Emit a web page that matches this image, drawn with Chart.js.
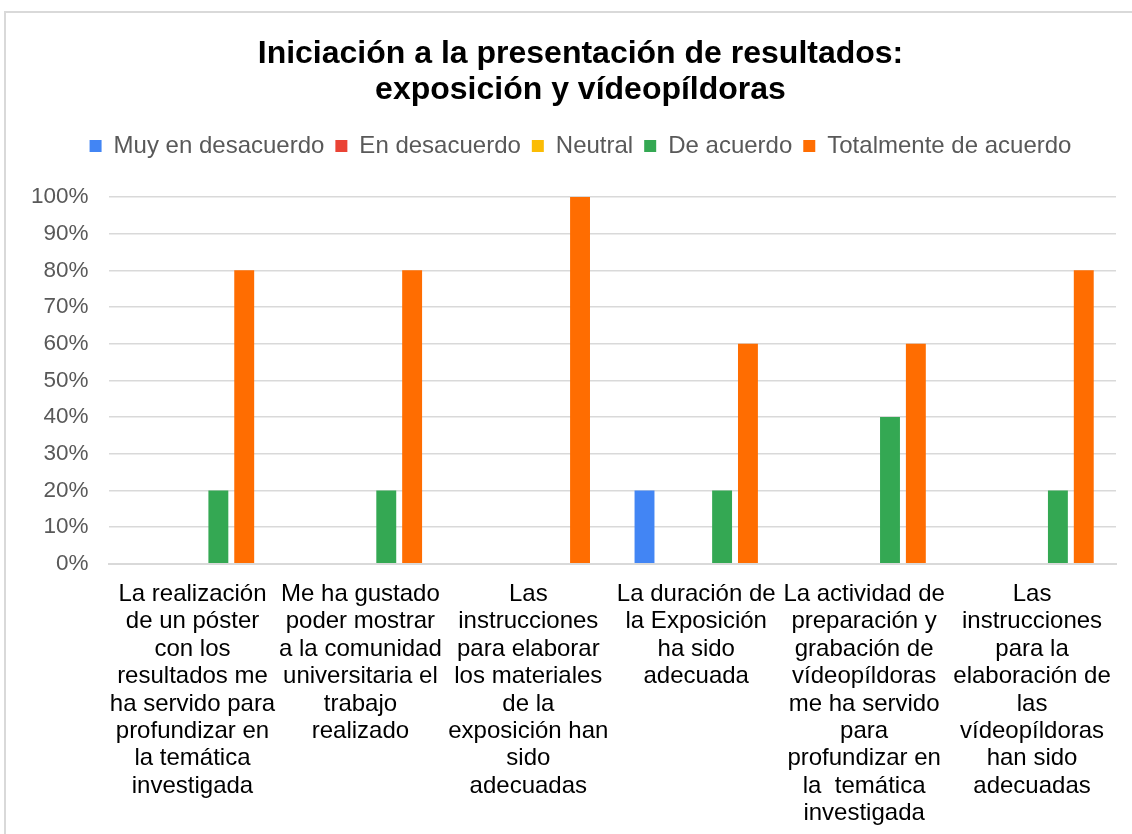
<!DOCTYPE html>
<html lang="es">
<head>
    <meta charset="UTF-8">
    <title>Iniciación a la presentación de resultados</title>
    <style>
        body {
            margin: 0;
            background: #fff;
            overflow: hidden;
        }
        .frame {
            position: absolute;
            left: 4px;
            top: 11px;
            width: 1160px;
            height: 840px;
            border: 2px solid #d9d9d9;
        }
        .wrap {
            position: absolute;
            left: 0;
            top: 0;
            width: 1150px;
            height: 834px;
        }
    </style>
</head>
<body>
    <div class="frame"></div>
    <div class="wrap">
        <canvas id="myChart" width="1150" height="834"></canvas>
    </div>
    <script src="https://cdn.jsdelivr.net/npm/chart.js@4.4.1/dist/chart.umd.min.js"></script>
    <script>
        const categories = [
            ['La realización', 'de un póster', 'con los', 'resultados me', 'ha servido para', 'profundizar en', 'la temática', 'investigada'],
            ['Me ha gustado', 'poder mostrar', 'a la comunidad', 'universitaria el', 'trabajo', 'realizado'],
            ['Las', 'instrucciones', 'para elaborar', 'los materiales', 'de la', 'exposición han', 'sido', 'adecuadas'],
            ['La duración de', 'la Exposición', 'ha sido', 'adecuada'],
            ['La actividad de', 'preparación y', 'grabación de', 'vídeopíldoras', 'me ha servido', 'para', 'profundizar en', 'la  temática', 'investigada'],
            ['Las', 'instrucciones', 'para la', 'elaboración de', 'las', 'vídeopíldoras', 'han sido', 'adecuadas']
        ];
        const seriesNames = ['Muy en desacuerdo', 'En desacuerdo', 'Neutral', 'De acuerdo', 'Totalmente de acuerdo'];
        const muyEnDesacuerdo = [0, 0, 0, 20, 0, 0];
        const enDesacuerdo = [0, 0, 0, 0, 0, 0];
        const neutral = [0, 0, 0, 0, 0, 0];
        const deAcuerdo = [20, 20, 0, 20, 40, 20];
        const totalmenteDeAcuerdo = [80, 80, 100, 60, 60, 80];
        const colors = ['#4285f4', '#ea4335', '#fbbc04', '#34a853', '#ff6d01'];

        const values = [muyEnDesacuerdo, enDesacuerdo, neutral, deAcuerdo, totalmenteDeAcuerdo];
        const data = {
            labels: categories,
            datasets: seriesNames.map((name, i) => ({
                label: name,
                data: values[i],
                backgroundColor: colors[i],
                borderWidth: 0,
                categoryPercentage: 0.77,
                barPercentage: 0.77
            }))
        };

        // extra space between the legend and the plot
        const legendMargin = {
            id: 'legendMargin',
            beforeInit(chart) {
                const fit = chart.legend.fit;
                chart.legend.fit = function () {
                    fit.bind(chart.legend)();
                    this.height += 29;
                };
            }
        };

        const font = 'Liberation Sans, Arial, sans-serif';
        const ctx = document.getElementById('myChart').getContext('2d');
        const myChart = new Chart(ctx, {
            type: 'bar',
            data: data,
            plugins: [legendMargin],
            options: {
                responsive: false,
                animation: false,
                layout: {
                    padding: { top: 28, left: 11, right: 0, bottom: -10 }
                },
                plugins: {
                    title: {
                        display: true,
                        text: ['Iniciación a la presentación de resultados:', 'exposición y vídeopíldoras'],
                        color: '#000',
                        font: { family: font, size: 32, weight: 'bold', lineHeight: 1.125 },
                        padding: { top: 8, bottom: 15 }
                    },
                    legend: {
                        labels: {
                            color: '#595959',
                            font: { family: font, size: 24 },
                            boxWidth: 12,
                            boxHeight: 12,
                            padding: 11
                        }
                    },
                    tooltip: { enabled: false }
                },
                scales: {
                    x: {
                        grid: { display: false, drawTicks: false },
                        border: { display: true, color: '#d9d9d9', width: 2 },
                        ticks: {
                            color: '#000',
                            font: { family: font, size: 24, lineHeight: 1.14 },
                            maxRotation: 0,
                            autoSkip: false,
                            padding: 17
                        }
                    },
                    y: {
                        min: 0,
                        max: 100,
                        grid: { color: '#d9d9d9', lineWidth: 1.5, drawTicks: false },
                        border: { display: false },
                        ticks: {
                            stepSize: 10,
                            color: '#595959',
                            font: { family: font, size: 22.5 },
                            padding: 20,
                            callback: v => v + '%'
                        }
                    },
                    // empty right-hand margin: the frame runs past the plot on the right
                    yRight: {
                        position: 'right',
                        grid: { display: false, drawTicks: false },
                        border: { display: false },
                        ticks: { display: false },
                        afterFit: s => { s.width = 34; }
                    }
                }
            }
        });
    </script>
</body>
</html>
